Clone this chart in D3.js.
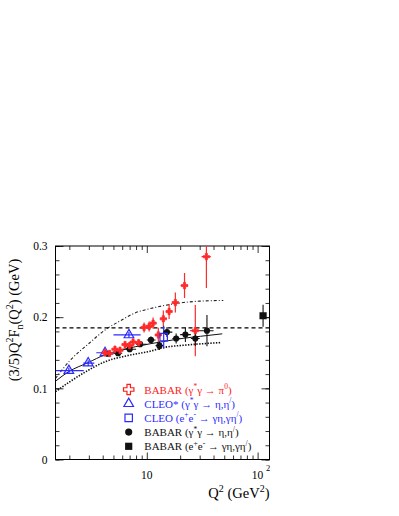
<!DOCTYPE html>
<html>
<head>
<meta charset="utf-8">
<script src="https://cdn.jsdelivr.net/npm/d3@7"></script>
<style>
  body { margin: 0; background: #fff; }
  svg { display: block; }
  svg text { font-family: "Liberation Serif", "Times New Roman", serif !important; }
</style>
</head>
<body>
<script>
// BABAR gamma* gamma -> pi0 (red crosses)
let redQ2 = [4.2, 4.62, 5.16, 5.73, 6.36, 6.99, 7.52, 8.43, 9.45, 10.5, 11.4, 12.7, 14.1, 15.9, 18.1, 21.9, 27.4, 34.5];
let redV = [0.150, 0.149, 0.155, 0.1535, 0.1615, 0.160, 0.165, 0.164, 0.1855, 0.187, 0.1916, 0.175, 0.1977, 0.208, 0.2205, 0.2444, 0.181, 0.285];
let redErr = [0.004, 0.004, 0.004, 0.004, 0.004, 0.004, 0.005, 0.005, 0.007, 0.007, 0.008, 0.010, 0.0116, 0.0105, 0.014, 0.0175, 0.036, 0.044];
let redQ2Err = [0.25, 0.25, 0.25, 0.25, 0.25, 0.25, 0.25, 0.5, 0.5, 0.5, 0.5, 0.5, 0.6, 0.8, 1.0, 1.7, 2.8, 3.3];

// CLEO gamma* gamma -> eta, eta' (blue open triangles)
let cleoQ2 = [1.98, 2.96, 4.2, 6.9];
let cleoV = [0.1248, 0.1355, 0.150, 0.175];
let cleoErr = [0.004, 0.004, 0.004, 0.004];
let cleoLo = [1.5, 2.67, 3.5, 5.0];
let cleoHi = [2.7, 3.36, 5.2, 8.8];

// CLEO e+e- -> gamma eta (blue open square)
let cleoEeQ2 = [14.2];
let cleoEeV = [0.172];
let cleoEeErr = [0.016];

// BABAR gamma* gamma -> eta, eta' (black circles)
let babarQ2 = [4.45, 5.5, 7.0, 8.7, 10.9, 13.0, 15.2, 18.4, 22.3, 27.4, 34.9];
let babarV = [0.1486, 0.1493, 0.155, 0.162, 0.168, 0.160, 0.179, 0.170, 0.1755, 0.170, 0.181];
let babarErr = [0.003, 0.003, 0.004, 0.004, 0.005, 0.006, 0.007, 0.007, 0.0105, 0.0105, 0.022];
let babarLo = [4, 5, 6, 8, 10, 12, 14, 17, 20, 25, 30];
let babarHi = [5, 6, 8, 10, 12, 14, 17, 20, 25, 30, 40];

// BABAR e+e- -> gamma eta (black square)
let babarEeQ2 = [112];
let babarEeV = [0.202];
let babarEeErr = [0.0155];

// curves
let solidQ2 = [1.5, 1.97, 2.94, 4.2, 5.73, 7.85, 10.7, 14.6, 21.3, 30.4, 48];
let solidV = [0.110, 0.1234, 0.136, 0.1472, 0.1535, 0.1584, 0.1626, 0.1661, 0.1703, 0.1731, 0.1766];
let upperQ2 = [1.5, 2.0, 3.0, 4.2, 5.94, 7.84, 10.7, 14.0, 21.3, 30, 49];
let upperV = [0.114, 0.138, 0.163, 0.182, 0.196, 0.206, 0.212, 0.216, 0.2205, 0.2225, 0.2235];
let lowerQ2 = [1.5, 2.02, 2.77, 4.2, 6.63, 10.7, 14.6, 21.3, 46];
let lowerV = [0.0953, 0.1093, 0.1227, 0.1374, 0.1458, 0.1521, 0.1577, 0.1605, 0.1642];
let asymptote = 0.185;

let yMajor = [0, 0.1, 0.2, 0.3];
let yMinor = d3.range(0, 0.301, 0.02);
let xMajor = [10, 100];
let xMinor = [2, 3, 4, 5, 6, 7, 8, 9, 20, 30, 40, 50, 60, 70, 80, 90];

let legendRows = [
  {color: "#ff1a1a", sym: "cross", parts: [["BABAR (γ", ""], ["*", "sup"], ["γ → π", ""], ["0", "sup"], [")", ""]]},
  {color: "#2b2bff", sym: "triangle", parts: [["CLEO* (γ", ""], ["*", "sup"], ["γ → η,η", ""], ["/", "sup"], [")", ""]]},
  {color: "#2b2bff", sym: "square", parts: [["CLEO (e", ""], ["+", "sup"], ["e", ""], ["-", "sup"], [" → γη,γη", ""], ["/", "sup"], [")", ""]]},
  {color: "#111", sym: "circle", parts: [["BABAR (γ", ""], ["*", "sup"], ["γ → η,η", ""], ["/", "sup"], [")", ""]]},
  {color: "#111", sym: "fsquare", parts: [["BABAR (e", ""], ["+", "sup"], ["e", ""], ["-", "sup"], [" → γη,γη", ""], ["/", "sup"], [")", ""]]}
];

let W = 399, H = 516;
let frameL = 55.5, frameR = 269.5, frameT = 246, frameB = 459.5;
let serif = "Liberation Serif, Times New Roman, serif";

let svg = d3.select("body").append("svg")
    .attr("width", W)
    .attr("height", H)
    .attr("font-family", serif);

let x = d3.scaleLog().domain([1.5, 128]).range([frameL, frameR]);
let y = d3.scaleLinear().domain([0, 0.3]).range([frameB, frameT]);

svg.append("defs").append("clipPath").attr("id", "frame")
  .append("rect")
  .attr("x", frameL).attr("y", frameT)
  .attr("width", frameR - frameL).attr("height", frameB - frameT);

// axes (ticks pointing inward, ROOT style)
function styleAxis(g) {
  g.attr("font-family", serif);
  g.select(".domain").remove();
  g.selectAll("line").attr("stroke", "#000").attr("stroke-width", 0.8);
}

svg.append("g")
  .attr("transform", `translate(${frameL},0)`)
  .call(d3.axisLeft(y).tickValues(yMajor).tickSize(-8).tickPadding(8)
        .tickFormat(d => d === 0 ? "0" : d3.format(".1f")(d)))
  .call(styleAxis)
  .selectAll("text").attr("font-size", 11.5).attr("fill", "#000");

svg.append("g")
  .attr("transform", `translate(${frameL},0)`)
  .call(d3.axisLeft(y).tickValues(yMinor).tickSize(-4).tickFormat(""))
  .call(styleAxis);

svg.append("g")
  .attr("transform", `translate(${frameR},0)`)
  .call(d3.axisRight(y).tickValues(yMajor).tickSize(-8).tickFormat(""))
  .call(styleAxis);

svg.append("g")
  .attr("transform", `translate(${frameR},0)`)
  .call(d3.axisRight(y).tickValues(yMinor).tickSize(-4).tickFormat(""))
  .call(styleAxis);

svg.append("g")
  .attr("transform", `translate(0,${frameB})`)
  .call(d3.axisBottom(x).tickValues(xMajor).tickSize(-7).tickFormat(""))
  .call(styleAxis);

// x tick labels: "10" and "10^2"
svg.append("text")
  .attr("x", x(10)).attr("y", 478.5)
  .attr("text-anchor", "middle")
  .attr("font-size", 11.5)
  .text("10");
svg.append("text")
  .attr("x", x(100)).attr("y", 478.5)
  .attr("text-anchor", "middle")
  .attr("font-size", 11.5)
  .text("10");
svg.append("text")
  .attr("x", x(100) + 8.5).attr("y", 471)
  .attr("font-size", 8.5)
  .text("2");

svg.append("g")
  .attr("transform", `translate(0,${frameB})`)
  .call(d3.axisBottom(x).tickValues(xMinor).tickSize(-4).tickFormat(""))
  .call(styleAxis);

svg.append("g")
  .attr("transform", `translate(0,${frameT})`)
  .call(d3.axisTop(x).tickValues(xMajor).tickSize(-7).tickFormat(""))
  .call(styleAxis);

svg.append("g")
  .attr("transform", `translate(0,${frameT})`)
  .call(d3.axisTop(x).tickValues(xMinor).tickSize(-4).tickFormat(""))
  .call(styleAxis);

// frame
svg.append("rect")
  .attr("x", frameL).attr("y", frameT)
  .attr("width", frameR - frameL).attr("height", frameB - frameT)
  .attr("fill", "none")
  .attr("stroke", "#000")
  .attr("stroke-width", 1);

let plot = svg.append("g").attr("clip-path", "url(#frame)");

// curves
let line = d3.line()
  .x(d => x(d[0]))
  .y(d => y(d[1]))
  .curve(d3.curveMonotoneX);

plot.append("path")
  .attr("d", line(d3.zip(upperQ2, upperV)))
  .attr("fill", "none")
  .attr("stroke", "#222")
  .attr("stroke-width", 1.1)
  .attr("stroke-dasharray", "3,2,1,2");

plot.append("path")
  .attr("d", line(d3.zip(lowerQ2, lowerV)))
  .attr("fill", "none")
  .attr("stroke", "#111")
  .attr("stroke-width", 1.6)
  .attr("stroke-dasharray", "1.4,1.4");

plot.append("path")
  .attr("d", line(d3.zip(solidQ2, solidV)))
  .attr("fill", "none")
  .attr("stroke", "#111")
  .attr("stroke-width", 1);

plot.append("line")
  .attr("x1", frameL).attr("x2", frameR)
  .attr("y1", y(asymptote)).attr("y2", y(asymptote))
  .attr("stroke", "#000")
  .attr("stroke-width", 1.1)
  .attr("stroke-dasharray", "4,3");

// error bars
function errorBars(q2, v, err, lo, hi, color, width) {
  let g = plot.append("g").attr("stroke", color).attr("stroke-width", width);
  q2.forEach(function(q, i) {
    g.append("line")
      .attr("x1", x(q)).attr("x2", x(q))
      .attr("y1", y(v[i] - err[i])).attr("y2", y(v[i] + err[i]));
    if (lo) {
      g.append("line")
        .attr("x1", x(lo[i])).attr("x2", x(hi[i]))
        .attr("y1", y(v[i])).attr("y2", y(v[i]));
    }
  });
}

errorBars(redQ2, redV, redErr,
  redQ2.map((q, i) => q - redQ2Err[i]), redQ2.map((q, i) => q + redQ2Err[i]),
  "#ff2a2a", 1.2);
errorBars(cleoQ2, cleoV, cleoErr, cleoLo, cleoHi, "#2b2bff", 1.2);
errorBars(cleoEeQ2, cleoEeV, cleoEeErr, null, null, "#2b2bff", 1.2);
errorBars(babarQ2, babarV, babarErr, babarLo, babarHi, "#111", 1.1);
errorBars(babarEeQ2, babarEeV, babarEeErr, null, null, "#111", 1.1);

// markers
function marker(g, sym, color, filledData) {
  if (sym === "cross") {
    g.append("path").attr("d", d3.symbol(d3.symbolCross, filledData ? 22 : 60)())
      .attr("fill", filledData ? color : "#fff").attr("stroke", color)
      .attr("stroke-width", filledData ? 0.8 : 1.2);
  } else if (sym === "triangle") {
    g.append("path").attr("d", d3.symbol(d3.symbolTriangle, 40)())
      .attr("fill", "none").attr("stroke", color).attr("stroke-width", 1.2);
  } else if (sym === "square") {
    g.append("path").attr("d", d3.symbol(d3.symbolSquare, 55)())
      .attr("fill", "none").attr("stroke", color).attr("stroke-width", 1.2);
  } else if (sym === "circle") {
    g.append("path").attr("d", d3.symbol(d3.symbolCircle, filledData ? 30 : 40)())
      .attr("fill", color);
  } else {
    g.append("path").attr("d", d3.symbol(d3.symbolSquare, 52)())
      .attr("fill", color);
  }
}

function drawPoints(q2, v, sym, color) {
  q2.forEach(function(q, i) {
    let g = plot.append("g").attr("transform", `translate(${x(q)},${y(v[i])})`);
    marker(g, sym, color, true);
  });
}

drawPoints(cleoQ2, cleoV, "triangle", "#2b2bff");
drawPoints(babarQ2, babarV, "circle", "#111");
drawPoints(redQ2, redV, "cross", "#ff2a2a");
drawPoints(cleoEeQ2, cleoEeV, "square", "#2b2bff");
drawPoints(babarEeQ2, babarEeV, "fsquare", "#111");

// legend
let legend = svg.append("g");
legendRows.forEach(function(row, i) {
  let ly = 389.5 + i * 14.2;
  let mg = legend.append("g").attr("transform", `translate(128.7,${ly})`);
  marker(mg, row.sym, row.color, false);
  let t = legend.append("text")
    .attr("x", 144.3)
    .attr("y", ly + 4)
    .attr("font-size", 11)
    .attr("fill", row.color);
  let shifted = false;
  row.parts.forEach(function(p) {
    let ts = t.append("tspan").text(p[0]);
    if (p[1] === "sup") {
      ts.attr("font-size", 7.5).attr("dy", -4.5);
      shifted = true;
    } else if (shifted) {
      ts.attr("dy", 4.5);
      shifted = false;
    }
  });
});

// axis titles
let yt = svg.append("text")
  .attr("transform", "translate(19,320) rotate(-90)")
  .attr("text-anchor", "middle")
  .attr("font-size", 14.5)
  .attr("fill", "#000");
[["(3/5)Q", 0, 14.5], ["2", -6, 10], ["F", 6, 14.5], ["n", 3.5, 10], ["(Q", -3.5, 14.5], ["2", -6, 10], [") (GeV)", 6, 14.5]]
  .forEach(function(p) {
    yt.append("tspan").attr("dy", p[1]).attr("font-size", p[2]).text(p[0]);
  });

let xt = svg.append("text")
  .attr("x", frameR)
  .attr("y", 497.5)
  .attr("text-anchor", "end")
  .attr("font-size", 14.5)
  .attr("fill", "#000");
[["Q", 0, 14.5], ["2", -5.5, 10], [" (GeV", 5.5, 14.5], ["2", -5.5, 10], [")", 5.5, 14.5]]
  .forEach(function(p) {
    xt.append("tspan").attr("dy", p[1]).attr("font-size", p[2]).text(p[0]);
  });
</script>
</body>
</html>
